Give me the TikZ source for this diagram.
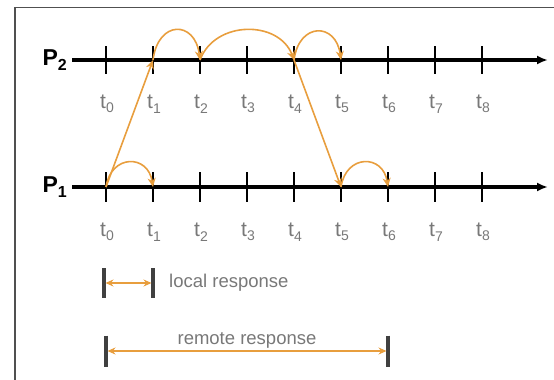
\documentclass[tikz,border=0pt]{standalone}
\usepackage{fontspec}
\setmainfont{Liberation Sans}
\usepackage{xcolor}
\usepackage{tikz}
\usetikzlibrary{arrows.meta,positioning}
\definecolor{msgorange}{RGB}{232,158,62}
\definecolor{labelgray}{RGB}{120,120,120}
\definecolor{framegray}{RGB}{80,80,80}
\begin{document}
\begin{tikzpicture}[
  x=1pt, y=-1pt, >=Stealth,
  axis/.style={-{Latex[length=11pt,width=9pt]}, line width=3.5pt},
  tick/.style={line width=2.8pt},
  proc/.style={font=\fontsize{23}{23}\selectfont\bfseries, anchor=east, inner xsep=5pt, inner ysep=0pt},
  timelabel/.style={text=labelgray, font=\fontsize{21}{21}\selectfont, inner sep=0pt},
  msg/.style={-{Stealth[length=9pt,width=8pt]}, msgorange, line width=1.6pt},
  span/.style={{Stealth[length=8pt,width=7pt]}-{Stealth[length=8pt,width=7pt]}, msgorange, line width=2pt, shorten <=1.5pt, shorten >=1.5pt},
  bar/.style={line width=3.5pt, black!75},
  note/.style={text=labelgray, font=\fontsize{18.5}{18.5}\selectfont, inner sep=0pt}
]
\useasboundingbox (0,0) rectangle (554,380);
\draw[framegray, line width=1.6pt] (15,380) -- (15,7.5) -- (554,7.5);

% the two processes
\node[proc] (p2) at (72,60) {P\raisebox{-0.35ex}{\fontsize{16}{16}\selectfont 2}};
\node[proc] (p1) at (72,187) {P\raisebox{-0.35ex}{\fontsize{16}{16}\selectfont 1}};
\coordinate (p2end) at (548,60);
\coordinate (p1end) at (548,187);
\draw[axis] (p2) -- (p2end);
\draw[axis] (p1) -- (p1end);

\foreach \i in {0,...,8} {
  \coordinate (a\i) at ({106+47*\i},60);
  \coordinate (b\i) at ({106+47*\i},187);
  \draw[tick] (a\i) ++(0,-14) -- ++(0,28);
  \draw[tick] (b\i) ++(0,-15) -- ++(0,30);
  \node[timelabel] (ta\i) at ({107+47*\i},104) {t\raisebox{-0.4ex}{\fontsize{14}{14}\selectfont\i}};
  \node[timelabel] (tb\i) at ({107+47*\i},232) {t\raisebox{-0.4ex}{\fontsize{14}{14}\selectfont\i}};
}

% messages
\draw[msg] (b0) -- (a1);
\draw[msg] (a4) -- (b5);
\draw[msg] (a1) .. controls +(5,-40) and +(-5,-40) .. (a2);
\draw[msg] (a2) .. controls +(15,-40) and +(-15,-40) .. (a4);
\draw[msg] (a4) .. controls +(5,-38) and +(-5,-38) .. (a5);
\draw[msg] (b0) .. controls +(5,-33) and +(-5,-33) .. (b1);
\draw[msg] (b5) .. controls +(5,-33) and +(-5,-33) .. (b6);

% response times
\coordinate (l0) at (104,283);
\coordinate (l1) at (153,283);
\draw[bar] (l0) ++(0,-15) -- ++(0,30);
\draw[bar] (l1) ++(0,-15) -- ++(0,30);
\draw[span] (l0) -- (l1);
\node[note, right=16pt of l1] (localtxt) {local response};

\coordinate (r0) at (106,351);
\coordinate (r1) at (388,351);
\draw[bar] (r0) ++(0,-15.5) -- ++(0,31);
\draw[bar] (r1) ++(0,-15.5) -- ++(0,31);
\draw[span] (r0) -- (r1) node[note, midway, above=2pt] (remotetxt) {remote response};

\end{tikzpicture}
\end{document}
